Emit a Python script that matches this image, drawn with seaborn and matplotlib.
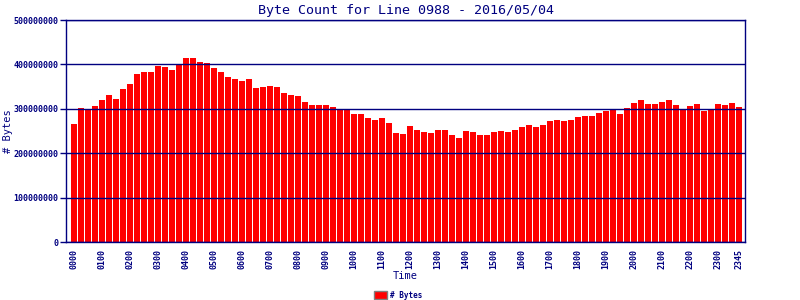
import matplotlib
matplotlib.use("Agg")
import matplotlib.pyplot as plt
import seaborn as sns
import pandas as pd
from matplotlib.patches import Patch

# ---- data ----
times = [f"{h:02d}{m:02d}" for h in range(24) for m in (0, 15, 30, 45)]
byte_counts_m = [
    265, 302, 298, 306, 320, 331, 322, 345, 356, 378, 383, 383,
    396, 394, 387, 399, 414, 414, 405, 403, 392, 383, 372, 367,
    363, 367, 347, 349, 351, 349, 336, 331, 329, 315, 309, 309,
    309, 304, 299, 299, 288, 288, 279, 275, 279, 268, 245, 243,
    261, 252, 248, 245, 252, 252, 241, 234, 250, 248, 241, 241,
    248, 250, 248, 252, 259, 264, 259, 264, 272, 275, 272, 275,
    282, 284, 284, 291, 295, 297, 288, 302, 313, 320, 311, 311,
    315, 320, 309, 299, 306, 311, 295, 297, 311, 309, 313, 304,
]
byte_counts = [v * 1_000_000 for v in byte_counts_m]
y_ticks = [0, 100000000, 200000000, 300000000, 400000000, 500000000]
y_tick_labels = ["0", "100000000", "200000000", "300000000", "400000000", "500000000"]
x_tick_labels = ["0000", "0100", "0200", "0300", "0400", "0500", "0600", "0700",
                 "0800", "0900", "1000", "1100", "1200", "1300", "1400", "1500",
                 "1600", "1700", "1800", "1900", "2000", "2100", "2200", "2300", "2345"]
title = "Byte Count for Line 0988 - 2016/05/04"
series_name = "# Bytes"

df = pd.DataFrame({"Time": times, "Bytes": byte_counts})

NAVY = "#000080"
RED = "#ff0000"
MONO = ["DejaVu Sans Mono"]

plt.rcParams["font.family"] = MONO

fig = plt.figure(figsize=(8, 3), dpi=100)
ax = fig.add_axes([66 / 800, (300 - 242) / 300, (745 - 66) / 800, (242 - 20) / 300])

sns.barplot(data=df, x="Time", y="Bytes", color=RED, saturation=1,
            width=6 / 7, linewidth=0, ax=ax)

ax.set_xlim(-1.14, 95.86)
ax.set_ylim(0, 500000000)

ax.set_yticks(y_ticks)
ax.set_yticklabels(y_tick_labels, fontsize=6, fontweight="bold", color=NAVY)
tick_pos = [times.index(t) for t in x_tick_labels]
ax.set_xticks(tick_pos)
ax.set_xticklabels(x_tick_labels, rotation=90, fontsize=6, fontweight="bold", color=NAVY)
ax.tick_params(axis="x", length=0, pad=5)
ax.tick_params(axis="y", length=4, width=1, color=NAVY, pad=1.5)

ax.set_axisbelow(False)
ax.yaxis.grid(True, color=NAVY, linewidth=1)
ax.xaxis.grid(False)
for s in ax.spines.values():
    s.set_color(NAVY)
    s.set_linewidth(1)
    s.set_zorder(5)

ax.set_title(title, fontsize=9.6, color=NAVY, pad=4)
ax.set_xlabel("Time", fontsize=7.5, color=NAVY)
ax.xaxis.set_label_coords(0.5, -0.13)
ax.set_ylabel(series_name, fontsize=7.5, color=NAVY)
ax.yaxis.set_label_coords(-0.078, 0.5)

handles = [Patch(facecolor=RED, edgecolor="#808080", linewidth=1, label=series_name)]
fig.legend(handles=handles, loc="center", bbox_to_anchor=(398 / 800, 1 - 295 / 300),
           frameon=False, prop={"size": 5.5, "weight": "bold", "family": MONO},
           labelcolor=NAVY, handlelength=1.7, handleheight=1.2, handletextpad=0.4)

fig.savefig("out.png", dpi=100)
